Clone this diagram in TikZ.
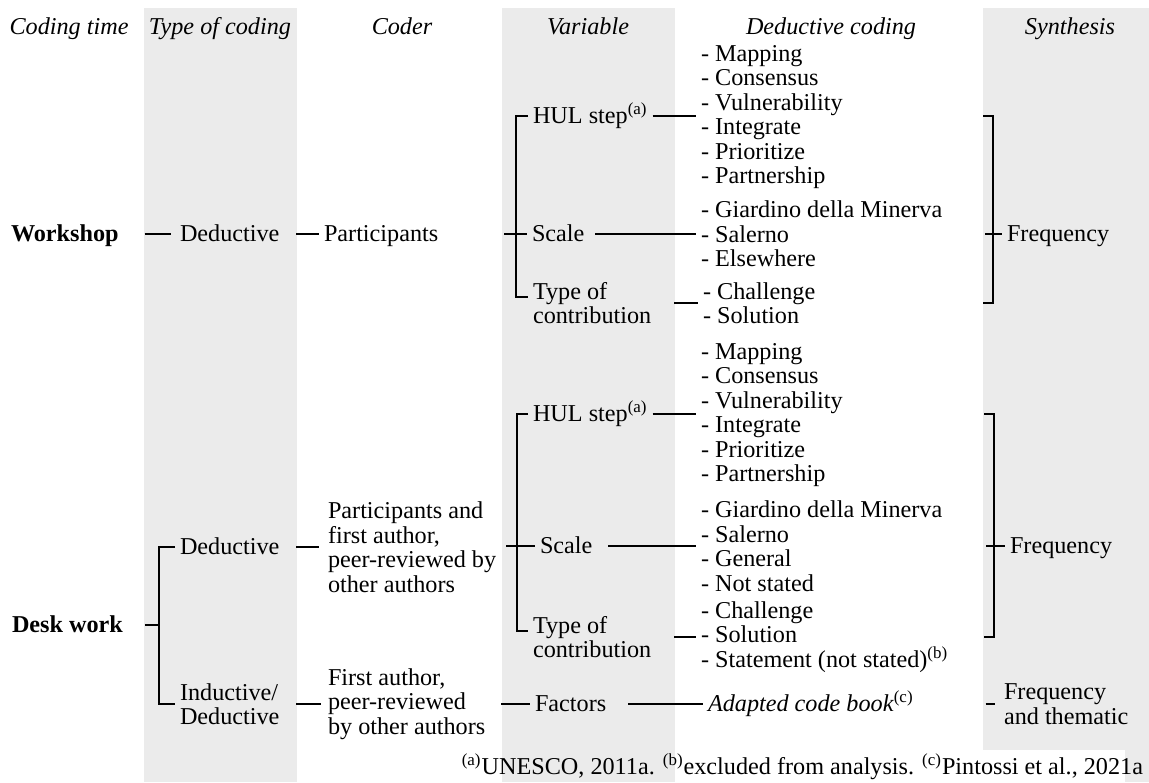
\documentclass[tikz,border=0pt]{standalone}
\usepackage{fontspec}
\setmainfont{Liberation Serif}
\definecolor{bandgrey}{RGB}{235,235,235}
\begin{document}
\begin{tikzpicture}[x=0.5pt,y=-0.5pt,line width=0.9pt,
	every node/.style={inner sep=0pt,outer sep=2.5pt,align=left,font=\fontsize{12.1}{12.25}\selectfont},
	lbl/.style={anchor=west},
	one/.style={text height=8.3pt,text depth=1.2pt},
	hdr/.style={one,font=\fontsize{12.1}{12.25}\selectfont\itshape}]
	\useasboundingbox (0,0) rectangle (1149,782);
	\fill[bandgrey] (144,8) rectangle (297,782);
	\fill[bandgrey] (502,8) rectangle (675,782);
	\fill[bandgrey] (983,8) rectangle (1149,782);
	\fill[white] (983,750) rectangle (1125,782);

	\node[hdr] (H1) at (69,27) {Coding time};
	\node[hdr] (H2) at (220,27) {Type of coding};
	\node[hdr] (H3) at (402,27) {Coder};
	\node[hdr] (H4) at (588,27) {Variable};
	\node[hdr] (H5) at (831,27) {Deductive coding};
	\node[hdr] (H6) at (1070,27) {Synthesis};

	\node[lbl,one] (W) at (6,234) {\textbf{Workshop}};
	\node[lbl,one] (WT) at (175,234) {Deductive};
	\node[lbl,one] (WC) at (319,234) {Participants};
	\node[lbl,one] (WV1) at (528,116) {HUL step\textsuperscript{(a)}};
	\node[lbl,one] (WV2) at (527,234) {Scale};
	\node[lbl] (WV3) at (528,303) {Type of\\contribution};
	\node[lbl] (WL1) at (696,117) {- Mapping\\- Consensus\\- Vulnerability\\- Integrate\\- Prioritize\\- Partnership};
	\node[lbl] (WL2) at (696,234) {- Giardino della Minerva\\- Salerno\\- Elsewhere};
	\node[lbl] (WL3) at (698,303) {- Challenge\\- Solution};
	\node[lbl,one] (WS) at (1002,234) {Frequency};
	\coordinate (WB) at (516,234);
	\coordinate (WF) at (993,234);
	\draw[shorten <=10.5pt,shorten >=2pt] (W) -- (WT);
	\draw[shorten <=6pt] (WT) -- (WC);
	\draw (WV1.west) -| (WB) |- ([yshift=3pt]WV3.west);
	\draw (WB) ++(-12,0) -- (WV2.west);
	\draw (WV1) -- (WV1 -| WL1.west);
	\draw[shorten <=3pt] (WV2) -- (WL2);
	\draw[shorten <=9pt] (WV3) -- (WL3);
	\draw (WF |- WV1) ++(-10,0) -- (WF |- WV1) -- (WF |- WL3) -- ++(-10,0);
	\draw (WF) ++(-8,0) -- (WS.west);

	\node[lbl,one] (D) at (7,625) {\textbf{Desk work}};
	\node[lbl,one] (DT1) at (175,547) {Deductive};
	\node[lbl] (DT2) at (175,704) {Inductive/\\Deductive};
	\node[lbl] (DC1) at (323,547) {Participants and\\first author,\\peer-reviewed by\\other authors};
	\node[lbl] (DC2) at (323,704) {First author,\\peer-reviewed\\by other authors};
	\node[lbl,one] (DV1) at (528,414) {HUL step\textsuperscript{(a)}};
	\node[lbl,one] (DV2) at (535,546) {Scale};
	\node[lbl] (DV3) at (528,637) {Type of\\contribution};
	\node[lbl,one] (DV4) at (530,704) {Factors};
	\node[lbl] (DL1) at (696,415) {- Mapping\\- Consensus\\- Vulnerability\\- Integrate\\- Prioritize\\- Partnership};
	\node[lbl] (DL2) at (696,546) {- Giardino della Minerva\\- Salerno\\- General\\- Not stated};
	\node[lbl] (DL3) at (696,637) {- Challenge\\- Solution\\- Statement (not stated)\textsuperscript{(b)}};
	\node[lbl,one] (DL4) at (703,704) {\textit{Adapted code book}\textsuperscript{(c)}};
	\node[lbl,one] (DS1) at (1005,546) {Frequency};
	\node[lbl] (DS2) at (999,704) {Frequency\\and thematic};
	\coordinate (DA) at (159,625);
	\coordinate (DB) at (517,546);
	\coordinate (DF) at (994,546);
	\draw[shorten <=8.5pt] (D) -- (DA);
	\draw (DT1.west) -| (DA) |- (DT2.west);
	\draw[shorten <=6pt,shorten >=2pt] (DT1) -- (DC1);
	\draw[shorten <=6pt,shorten >=1pt] (DT2) -- (DC2);
	\draw (DV1.west) -| (DB) |- ([yshift=3pt]DV3.west);
	\draw (DB) ++(-11,0) -- (DV2.west);
	\draw[shorten <=5.5pt] (DC2) -- (DV4);
	\draw (DV1) -- (DV1 -| DL1.west);
	\draw[shorten <=5.5pt] (DV2) -- (DL2);
	\draw[shorten <=9pt] (DV3) -- (DL3);
	\draw[shorten <=8.5pt] (DV4) -- (DL4);
	\draw (DF |- DV1) ++(-10,0) -- (DF |- DV1) -- (DF |- DL3) -- ++(-10,0);
	\draw (DF) ++(-8,0) -- (DS1.west);
	\draw[shorten <=33.5pt,shorten >=2pt] (DL4) -- (DS2);

	\node[anchor=east,one] (N) at (1148,767) {\textsuperscript{(a)}UNESCO, 2011a. \textsuperscript{(b)}excluded from analysis. \textsuperscript{(c)}Pintossi et al., 2021a};
\end{tikzpicture}
\end{document}
